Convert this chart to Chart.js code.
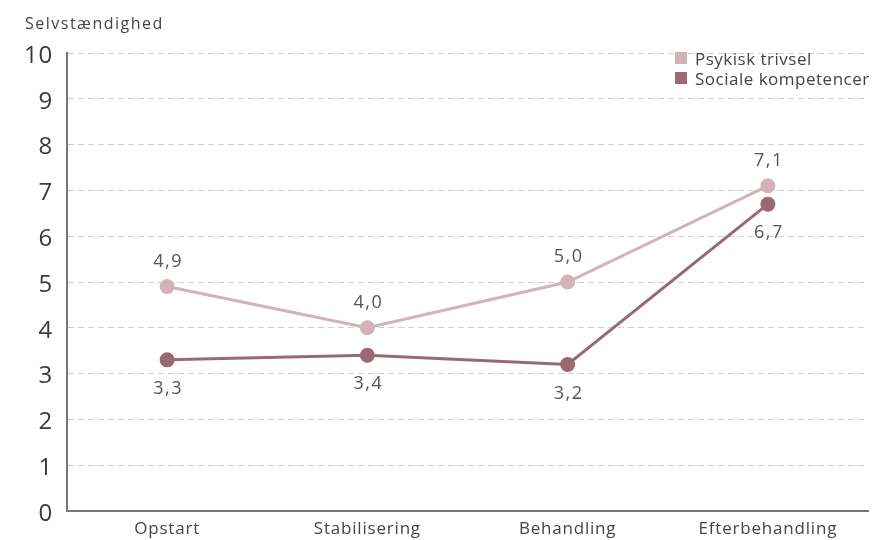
<!DOCTYPE html>
<html lang="da">
<head>
<meta charset="utf-8">
<script src="https://cdn.jsdelivr.net/npm/chart.js@4"></script>
<style>
  html, body { margin: 0; padding: 0; background: #fff; }
  #wrap { position: relative; width: 877px; height: 540px; }
  #legend { position: absolute; left: 675px; top: 48px; font: 17px "Open Sans", sans-serif; letter-spacing: 0.5px; color: #444; }
  #legend div { display: flex; align-items: center; height: 20px; white-space: nowrap; }
  #legend span { display: inline-block; width: 12px; height: 12px; margin-right: 8px; }
</style>
</head>
<body>
<div id="wrap">
  <canvas id="chart" width="877" height="540"></canvas>
  <div id="legend"></div>
</div>
<script>
const CATEGORIES = ['Opstart', 'Stabilisering', 'Behandling', 'Efterbehandling'];
const PSYKISK = [4.9, 4.0, 5.0, 7.1];
const SOCIALE = [3.3, 3.4, 3.2, 6.7];
const Y_TICKS = [0, 1, 2, 3, 4, 5, 6, 7, 8, 9, 10];

const FONT = '"Open Sans", "Noto Sans", sans-serif';

// Slightly wider text spacing for every label Chart.js draws
const spacing = {
    id: 'spacing',
    beforeLayout(chart) { chart.ctx.letterSpacing = '0.8px'; },
    beforeDraw(chart) { chart.ctx.letterSpacing = '0.8px'; }
};

// Value labels: above for the upper line, below for the lower one
const valueLabels = {
    id: 'valueLabels',
    afterDatasetsDraw(chart) {
        const ctx = chart.ctx;
        ctx.save();
        ctx.font = '18px ' + FONT;
        ctx.letterSpacing = '1.5px';
        ctx.fillStyle = '#555';
        ctx.textAlign = 'center';
        ctx.textBaseline = 'middle';
        chart.data.datasets.forEach((ds, i) => {
            const meta = chart.getDatasetMeta(i);
            meta.data.forEach((pt, j) => {
                const txt = ds.data[j].toFixed(1).replace('.', ',');
                const dy = ds.labelAbove ? -25 : 29;
                ctx.fillText(txt, pt.x + 1, pt.y + dy);
            });
        });
        ctx.restore();
    }
};

// Axis caption in the top-left corner
const axisCaption = {
    id: 'axisCaption',
    afterDraw(chart) {
        const ctx = chart.ctx;
        ctx.save();
        ctx.font = '16px ' + FONT;
        ctx.letterSpacing = '1.5px';
        ctx.fillStyle = '#444';
        ctx.textBaseline = 'middle';
        ctx.fillText('Selvstændighed', 25, 24);
        ctx.restore();
    }
};

const chart = new Chart(document.getElementById('chart'), {
    type: 'line',
    data: {
        labels: CATEGORIES,
        datasets: [
            {
                label: 'Psykisk trivsel',
                data: PSYKISK,
                borderColor: '#d3b3ba',
                backgroundColor: '#d3b3ba',
                pointBackgroundColor: '#d3b3ba',
                borderWidth: 3,
                pointRadius: 6,
                tension: 0,
                labelAbove: true
            },
            {
                label: 'Sociale kompetencer',
                data: SOCIALE,
                borderColor: '#9a6973',
                backgroundColor: '#9a6973',
                pointBackgroundColor: '#9a6973',
                borderWidth: 3,
                pointRadius: 6,
                tension: 0,
                labelAbove: false
            }
        ]
    },
    options: {
        responsive: false,
        animation: false,
        layout: { padding: { top: 53, right: 7, left: 0, bottom: 0 } },
        plugins: {
            legend: { display: false },
            tooltip: { enabled: false }
        },
        scales: {
            x: {
                offset: true,
                grid: { display: false, drawTicks: false },
                border: { color: '#777', width: 2 },
                ticks: { color: '#444', font: { size: 17, family: FONT }, padding: 8 },
                afterFit: scale => { scale.height = 29; }
            },
            y: {
                min: 0,
                max: 10,
                afterBuildTicks: scale => { scale.ticks = Y_TICKS.map(v => ({ value: v })); },
                afterFit: scale => { scale.width = 67; },
                grid: { color: '#d0d0d0', lineWidth: 1, drawTicks: false },
                border: { color: '#777', width: 2, dash: [6, 4] },
                ticks: { color: '#3a3a3a', font: { size: 24, family: FONT }, padding: 14, labelOffset: 3 }
            }
        }
    },
    plugins: [spacing, valueLabels, axisCaption]
});

// Legend boxes stacked in the top-right corner
document.getElementById('legend').innerHTML = chart.data.datasets
    .map(ds => `<div><span style="background:${ds.borderColor}"></span>${ds.label}</div>`)
    .join('');
</script>
</body>
</html>
